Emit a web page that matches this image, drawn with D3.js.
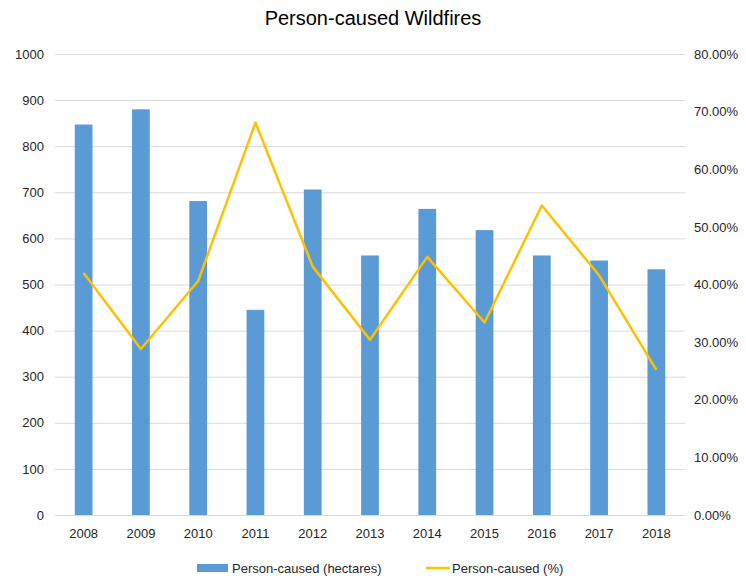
<!DOCTYPE html>
<html>
<head>
    <script src="https://cdnjs.cloudflare.com/ajax/libs/d3/7.8.5/d3.min.js"></script>
    <style>
        body {
            margin: 0;
            background: #ffffff;
            font-family: "Liberation Sans", Arial, sans-serif;
        }
        .axis text {
            fill: #262626;
            font-size: 13px;
        }
        .axis path, .axis line {
            display: none;
        }
        .grid line {
            stroke: #d9d9d9;
            stroke-width: 1;
        }
        .grid path {
            display: none;
        }
    </style>
</head>
<body>
    <svg id="chart" width="746" height="579"></svg>
    <script>
        const years = ["2008", "2009", "2010", "2011", "2012", "2013", "2014", "2015", "2016", "2017", "2018"];
        const hectares = [847, 880, 681, 445, 706, 563, 664, 618, 563, 552, 533];
        const percent = [0.420, 0.288, 0.406, 0.681, 0.431, 0.304, 0.448, 0.334, 0.537, 0.416, 0.252];
        const leftTicks = [0, 100, 200, 300, 400, 500, 600, 700, 800, 900, 1000];
        const rightTicks = [0, 0.1, 0.2, 0.3, 0.4, 0.5, 0.6, 0.7, 0.8];

        const svg = d3.select("#chart");
        const plot = { left: 55, right: 685, top: 54, bottom: 515 };

        const x = d3.scaleBand()
            .domain(years)
            .range([plot.left, plot.right])
            .paddingInner(0.69)
            .paddingOuter(0.345);

        const yLeft = d3.scaleLinear().domain([0, 1000]).range([plot.bottom, plot.top]);
        const yRight = d3.scaleLinear().domain([0, 0.8]).range([plot.bottom, plot.top]);

        // title
        svg.append("text")
            .attr("x", 373)
            .attr("y", 25)
            .attr("text-anchor", "middle")
            .style("font-size", "20px")
            .style("fill", "#000")
            .text("Person-caused Wildfires");

        // gridlines
        svg.append("g")
            .attr("class", "grid")
            .attr("transform", `translate(${plot.left},0)`)
            .call(d3.axisLeft(yLeft).tickValues(leftTicks).tickSize(-(plot.right - plot.left)).tickFormat(""));

        // bars
        svg.selectAll("rect.bar")
            .data(hectares)
            .join("rect")
            .attr("class", "bar")
            .attr("x", (d, i) => x(years[i]))
            .attr("y", d => yLeft(d))
            .attr("width", x.bandwidth())
            .attr("height", d => plot.bottom - yLeft(d))
            .attr("fill", "#5b9bd5");

        // line
        const line = d3.line()
            .x((d, i) => x(years[i]) + x.bandwidth() / 2)
            .y(d => yRight(d));

        svg.append("path")
            .datum(percent)
            .attr("d", line)
            .attr("fill", "none")
            .attr("stroke", "#ffc000")
            .attr("stroke-width", 2.5)
            .attr("stroke-linejoin", "round");

        // axes
        svg.append("g")
            .attr("class", "axis")
            .attr("transform", `translate(${plot.left},0)`)
            .call(d3.axisLeft(yLeft).tickValues(leftTicks).tickSize(0).tickPadding(11)
                .tickFormat(d3.format("d")));

        svg.append("g")
            .attr("class", "axis")
            .attr("transform", `translate(${plot.right},0)`)
            .call(d3.axisRight(yRight).tickValues(rightTicks).tickSize(0).tickPadding(9)
                .tickFormat(d => (d * 100).toFixed(2) + "%"));

        svg.append("g")
            .attr("class", "axis")
            .attr("transform", `translate(0,${plot.bottom})`)
            .call(d3.axisBottom(x).tickSize(0).tickPadding(14));

        // legend
        const legend = svg.append("g").attr("transform", "translate(0,568)");
        legend.append("rect")
            .attr("x", 197).attr("y", -4)
            .attr("width", 31).attr("height", 8)
            .attr("fill", "#5b9bd5");
        legend.append("text")
            .attr("x", 232).attr("y", 4.5)
            .style("font-size", "13px").style("fill", "#262626")
            .text("Person-caused (hectares)");
        legend.append("line")
            .attr("x1", 426).attr("x2", 450)
            .attr("y1", 0).attr("y2", 0)
            .attr("stroke", "#ffc000").attr("stroke-width", 2.5);
        legend.append("text")
            .attr("x", 452).attr("y", 4.5)
            .style("font-size", "13px").style("fill", "#262626")
            .text("Person-caused (%)");
    </script>
</body>
</html>
